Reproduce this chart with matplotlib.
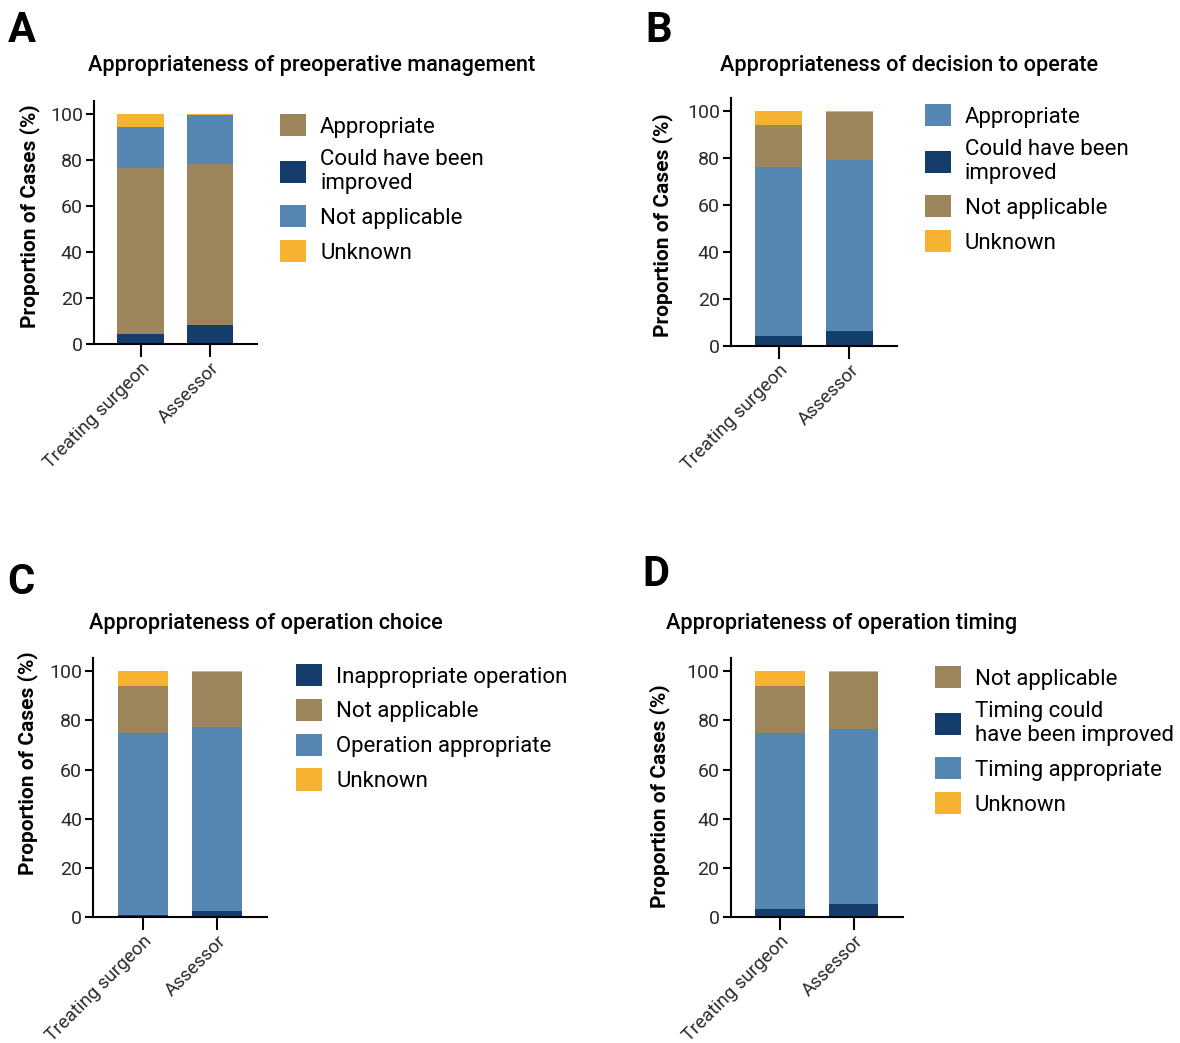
import matplotlib
matplotlib.use("Agg")
import matplotlib.pyplot as plt

plt.rcParams['font.family'] = ['Roboto', 'DejaVu Sans']

groups = ["Treating surgeon", "Assessor"]

# Panel A: preoperative management (stack order bottom -> top)
a_improved = [4.0, 8.0]
a_appropriate = [72.4, 70.0]
a_not_applicable = [17.8, 21.4]
a_unknown = [5.8, 0.6]

# Panel B: decision to operate
b_improved = [4.3, 6.2]
b_appropriate = [71.9, 72.8]
b_not_applicable = [17.7, 20.4]
b_unknown = [6.1, 0.6]

# Panel C: operation choice
c_inappropriate = [0.8, 2.4]
c_appropriate = [74.0, 74.8]
c_not_applicable = [19.1, 22.4]
c_unknown = [6.1, 0.4]

# Panel D: operation timing
d_improved = [3.3, 5.3]
d_appropriate = [71.5, 71.3]
d_not_applicable = [19.1, 23.0]
d_unknown = [6.1, 0.4]

NAVY = "#143d6b"
BROWN = "#9c855a"
BLUE = "#5587b2"
YELLOW = "#f6b331"

fig = plt.figure(figsize=(11.8, 10.43), dpi=100)
W, H = 1180, 1043


def px_axes(left, top, right, bottom):
    return fig.add_axes([left / W, 1 - bottom / H, (right - left) / W, (bottom - top) / H])


def stacked(ax, layers, label_xy):
    x = list(range(len(groups)))
    base = [0.0] * len(groups)
    handles = {}
    for name, vals, color in layers:
        bars = ax.bar(x, vals, bottom=base, width=0.67, color=color, edgecolor='none')
        handles[name] = bars
        base = [b + v for b, v in zip(base, vals)]
    ax.set_xlim(-0.67, 1.67)
    ax.set_ylim(0, 105.5)
    ax.set_yticks([0, 20, 40, 60, 80, 100])
    ax.set_xticks(x)
    ax.set_xticklabels(groups, rotation=45, ha='right', rotation_mode='anchor',
                       fontsize=13.5, color='#2a2a2a')
    ax.tick_params(axis='y', labelsize=14, labelcolor='#2a2a2a', length=6, width=1.5,
                   direction='out', pad=2)
    ax.tick_params(axis='x', length=9, width=1.5, direction='out', pad=2)
    for s in ['top', 'right']:
        ax.spines[s].set_visible(False)
    for s in ['left', 'bottom']:
        ax.spines[s].set_linewidth(1.5)
    ax.set_ylabel("Proportion of Cases (%)", fontsize=15, fontweight='semibold')
    ax.yaxis.set_label_coords(*label_xy)
    return handles


def legend(ax, handles, order, anchor):
    ax.legend([handles[n] for n in order], order, loc='upper left',
              bbox_to_anchor=(anchor[0] / W, 1 - anchor[1] / H),
              bbox_transform=fig.transFigure, frameon=False, fontsize=16,
              handlelength=1.17, handleheight=1.17, handletextpad=0.63,
              labelspacing=0.5, borderpad=0, borderaxespad=0)


# A
axA = px_axes(94, 101, 256.5, 343.7)
hA = stacked(axA, [
    ("Could have been\nimproved", a_improved, NAVY),
    ("Appropriate", a_appropriate, BROWN),
    ("Not applicable", a_not_applicable, BLUE),
    ("Unknown", a_unknown, YELLOW),
], (-0.335, 0.526))
legend(axA, hA, ["Appropriate", "Could have been\nimproved", "Not applicable", "Unknown"], (280, 114))

# B
axB = px_axes(731, 97.7, 897, 345.7)
hB = stacked(axB, [
    ("Could have been\nimproved", b_improved, NAVY),
    ("Appropriate", b_appropriate, BLUE),
    ("Not applicable", b_not_applicable, BROWN),
    ("Unknown", b_unknown, YELLOW),
], (-0.35, 0.485))
legend(axB, hB, ["Appropriate", "Could have been\nimproved", "Not applicable", "Unknown"], (925, 104))

# C
axC = px_axes(93.3, 657.7, 267, 917)
hC = stacked(axC, [
    ("Inappropriate operation", c_inappropriate, NAVY),
    ("Operation appropriate", c_appropriate, BLUE),
    ("Not applicable", c_not_applicable, BROWN),
    ("Unknown", c_unknown, YELLOW),
], (-0.32, 0.595))
legend(axC, hC, ["Inappropriate operation", "Not applicable", "Operation appropriate", "Unknown"], (296, 664))

# D
axD = px_axes(730.7, 657.7, 903, 917)
hD = stacked(axD, [
    ("Timing could\nhave been improved", d_improved, NAVY),
    ("Timing appropriate", d_appropriate, BLUE),
    ("Not applicable", d_not_applicable, BROWN),
    ("Unknown", d_unknown, YELLOW),
], (-0.352, 0.465))
legend(axD, hD, ["Not applicable", "Timing could\nhave been improved", "Timing appropriate", "Unknown"], (935, 666))

# Titles and panel letters
titles = [
    (88, 65, "Appropriateness of preoperative management"),
    (720, 66, "Appropriateness of decision to operate"),
    (89, 624, "Appropriateness of operation choice"),
    (666, 623, "Appropriateness of operation timing"),
]
for x, y, t in titles:
    fig.text(x / W, 1 - y / H, t, fontsize=15.6, fontweight='medium', ha='left', va='center')

letters = [(8, 30, "A"), (645, 30, "B"), (7, 583, "C"), (642, 574, "D")]
for x, y, t in letters:
    fig.text(x / W, 1 - y / H, t, fontsize=30, fontweight='bold', ha='left', va='center')

fig.savefig("out.png", dpi=100)
